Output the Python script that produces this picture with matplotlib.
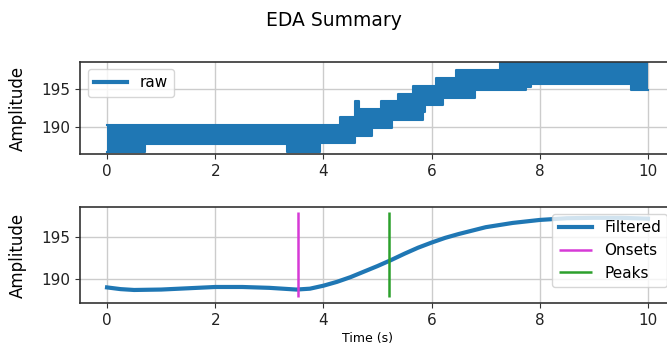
import numpy as np
import matplotlib
matplotlib.use("Agg")
import matplotlib.pyplot as plt

# raw EDA: quantised signal jittering between two levels, stored as a step envelope
raw_t  = [0.00, 0.70, 3.32, 3.93, 4.30, 4.58, 4.66, 4.89, 5.07, 5.26, 5.38, 5.66,
          5.84, 5.87, 6.09, 6.21, 6.46, 6.80, 7.26, 7.75, 7.84, 9.69, 10.00]
raw_lo = [186.8, 187.8, 186.8, 187.9, 187.9, 188.9, 188.9, 189.9, 189.9, 191.0, 191.0, 191.0,
          192.0, 192.9, 192.9, 193.8, 193.8, 194.9, 194.9, 195.35, 195.65, 194.9, 194.9]
raw_hi = [190.3, 190.3, 190.3, 190.3, 191.3, 193.4, 192.4, 192.4, 193.4, 193.4, 194.4, 195.4,
          195.4, 195.4, 196.45, 196.45, 197.5, 197.5, 198.8, 198.8, 198.8, 198.8, 198.8]

# filtered signal
filt_t = [0.0, 0.25, 0.5, 1.0, 1.5, 2.0, 2.5, 3.0, 3.25, 3.5, 3.75, 4.0, 4.25, 4.5, 4.75,
          5.0, 5.25, 5.5, 5.75, 6.0, 6.25, 6.5, 7.0, 7.5, 8.0, 8.5, 9.0, 9.5, 10.0]
filt_v = [189.05, 188.85, 188.75, 188.8, 188.95, 189.1, 189.1, 189.0, 188.9, 188.8, 188.9,
          189.25, 189.7, 190.25, 190.9, 191.55, 192.25, 193.0, 193.7, 194.3, 194.85, 195.3,
          196.1, 196.6, 196.95, 197.15, 197.2, 197.2, 197.1]

onsets = [3.53]
peaks  = [5.22]
vl_min, vl_max = 187.95, 197.85

blue = '#1f77b4'
W, H = 667, 351
fig = plt.figure(figsize=(W/100, H/100), dpi=100)

ax1 = fig.add_axes([80/W, 1-154.3/H, 595/W, 92.6/H])
ax2 = fig.add_axes([80/W, 1-303.3/H, 595/W, 96.6/H])

ax1.fill_between(raw_t, raw_lo, raw_hi, step='post', color=blue, lw=0, zorder=2)
ax1.step(raw_t, raw_hi, where='post', color=blue, lw=1.5)
ax1.step(raw_t, raw_lo, where='post', color=blue, lw=1.5)
ax1.plot([], [], color=blue, lw=3, label='raw')
ax1.set_ylim(186.45, 198.63)
ax1.legend(loc='upper left', fontsize=11, handlelength=2.2)

ax2.plot(filt_t, filt_v, color=blue, lw=3, label='Filtered')
ax2.vlines(onsets, vl_min, vl_max, color='#d63ad6', lw=1.8, label='Onsets')
ax2.vlines(peaks, vl_min, vl_max, color='#2ca02c', lw=1.8, label='Peaks')
ax2.set_ylim(187.19, 198.5)
ax2.legend(loc='upper right', fontsize=11, handlelength=2.2)

for ax in (ax1, ax2):
    ax.set_xlim(-0.5, 10.5)
    ax.set_xticks([0, 2, 4, 6, 8, 10])
    ax.set_yticks([190, 195])
    ax.grid(True, color='#cccccc', lw=1)
    ax.tick_params(labelsize=11, colors='#333333', labelcolor='#222222')
    ax.set_ylabel('Amplitude', fontsize=12)
    ax.yaxis.set_label_coords(-0.089, 0.5)
    for s in ax.spines.values():
        s.set_color('#333333')
        s.set_linewidth(1.2)

ax2.set_xlabel('Time (s)', fontsize=9)
ax2.xaxis.set_label_coords((368-80)/595, -0.3)

fig.suptitle('EDA Summary', fontsize=13.5, y=1-20/H, va='center')

fig.savefig('out.png', dpi=100)
